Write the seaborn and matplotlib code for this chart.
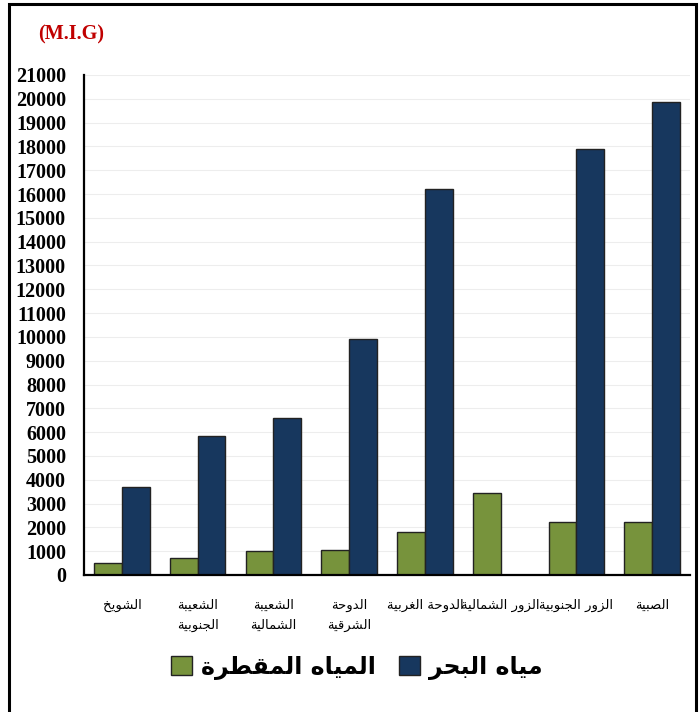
import numpy as np
import pandas as pd
import seaborn as sns
import matplotlib.pyplot as plt
from matplotlib.patches import Rectangle

# stations, left to right
stations = ['الشويخ', 'الشعيبة\nالجنوبية', 'الشعيبة\nالشمالية', 'الدوحة\nالشرقية',
            'الدوحة الغربية', 'الزور الشمالية', 'الزور الجنوبية', 'الصبية']
distilled = [500, 700, 1000, 1050, 1800, 3450, 2230, 2230]
seawater = [3700, 5850, 6600, 9900, 16200, 0, 17900, 19850]
series = ['المياه المقطرة', 'مياه البحر']
colors = ['#77933C', '#17375E']
yticks = list(range(0, 22000, 1000))

# matplotlib does no arabic shaping, so pick presentation forms by hand
FORMS = {
    'ا': ('\uFE8D', '\uFE8E', None, None),
    'ب': ('\uFE8F', '\uFE90', '\uFE91', '\uFE92'),
    'ة': ('\uFE93', '\uFE94', None, None),
    'ج': ('\uFE9D', '\uFE9E', '\uFE9F', '\uFEA0'),
    'ح': ('\uFEA1', '\uFEA2', '\uFEA3', '\uFEA4'),
    'خ': ('\uFEA5', '\uFEA6', '\uFEA7', '\uFEA8'),
    'د': ('\uFEA9', '\uFEAA', None, None),
    'ر': ('\uFEAD', '\uFEAE', None, None),
    'ز': ('\uFEAF', '\uFEB0', None, None),
    'ش': ('\uFEB5', '\uFEB6', '\uFEB7', '\uFEB8'),
    'ص': ('\uFEB9', '\uFEBA', '\uFEBB', '\uFEBC'),
    'ط': ('\uFEC1', '\uFEC2', '\uFEC3', '\uFEC4'),
    'ع': ('\uFEC9', '\uFECA', '\uFECB', '\uFECC'),
    'غ': ('\uFECD', '\uFECE', '\uFECF', '\uFED0'),
    'ق': ('\uFED5', '\uFED6', '\uFED7', '\uFED8'),
    'ل': ('\uFEDD', '\uFEDE', '\uFEDF', '\uFEE0'),
    'م': ('\uFEE1', '\uFEE2', '\uFEE3', '\uFEE4'),
    'ن': ('\uFEE5', '\uFEE6', '\uFEE7', '\uFEE8'),
    'ه': ('\uFEE9', '\uFEEA', '\uFEEB', '\uFEEC'),
    'و': ('\uFEED', '\uFEEE', None, None),
    'ي': ('\uFEF1', '\uFEF2', '\uFEF3', '\uFEF4'),
}


def shape(word):
    out = []
    for i, c in enumerate(word):
        if c not in FORMS:
            out.append(c)
            continue
        prev = word[i - 1] if i > 0 else None
        nxt = word[i + 1] if i + 1 < len(word) else None
        join_prev = prev in FORMS and FORMS[prev][2] is not None
        join_next = nxt in FORMS and FORMS[c][2] is not None
        iso, fin, ini, med = FORMS[c]
        if join_prev and join_next:
            out.append(med)
        elif join_prev:
            out.append(fin)
        elif join_next:
            out.append(ini)
        else:
            out.append(iso)
    return ''.join(out)


def ar(text):
    return '\n'.join(shape(line)[::-1] for line in text.split('\n'))


rows = []
for i, st in enumerate(stations):
    rows.append([ar(st), ar(series[0]), distilled[i]])
    rows.append([ar(st), ar(series[1]), seawater[i]])
df = pd.DataFrame(rows, columns=['station', 'type', 'value'])

sns.set_style('white')
plt.rcParams['font.family'] = ['Liberation Serif', 'DejaVu Sans']
plt.rcParams['text.color'] = 'black'
plt.rcParams['xtick.color'] = 'black'
plt.rcParams['ytick.color'] = 'black'

fig = plt.figure(figsize=(6.99, 7.12), dpi=100)
ax = fig.add_axes([84 / 699, 1 - 575 / 712, 606 / 699, 500 / 712])

sns.barplot(data=df, x='station', y='value', hue='type',
            hue_order=[ar(s) for s in series], palette=colors,
            width=0.73, edgecolor='#222222', linewidth=1, ax=ax,
            saturation=1, legend=False)

ax.set_ylim(0, 21000)
ax.set_yticks(yticks)
ax.set_yticklabels([str(t) for t in yticks], fontsize=14.5, fontweight='bold',
                   family=['Liberation Serif'])
ax.set_xticks(range(len(stations)))
ax.set_xticklabels([ar(s) for s in stations], fontsize=9.5,
                   family=['DejaVu Sans'], va='top', linespacing=1.7)
ax.tick_params(axis='both', length=0)
ax.tick_params(axis='y', pad=13)
ax.tick_params(axis='x', pad=17)
ax.set_xlabel('')
ax.set_ylabel('')
ax.yaxis.grid(True, color='#EDEDED', linewidth=0.8)
ax.set_axisbelow(True)
for s in ['top', 'right']:
    ax.spines[s].set_visible(False)
for s in ['left', 'bottom']:
    ax.spines[s].set_color('black')
    ax.spines[s].set_linewidth(1.6)

handles = [Rectangle((0, 0), 1, 1, facecolor=c, edgecolor='#222222', linewidth=1)
           for c in colors]
fig.legend(handles, [ar(s) for s in series], loc='center',
           bbox_to_anchor=(357 / 699, 1 - 667 / 712), ncol=2, frameon=False,
           prop={'family': 'DejaVu Sans', 'weight': 'bold', 'size': 17},
           handlelength=0.85, handleheight=0.85, handletextpad=0.4,
           columnspacing=1.0)

fig.text(38 / 699, 1 - 34 / 712, '(M.I.G)', color='#C00000', fontsize=14.5,
         fontweight='bold', family=['Liberation Serif'], va='center', ha='left')

fig.patches.append(Rectangle((9 / 699, -0.01), 687 / 699, 1.01 - 4 / 712,
                             transform=fig.transFigure, fill=False,
                             edgecolor='black', linewidth=2.2))

fig.savefig('out.png', dpi=100)
